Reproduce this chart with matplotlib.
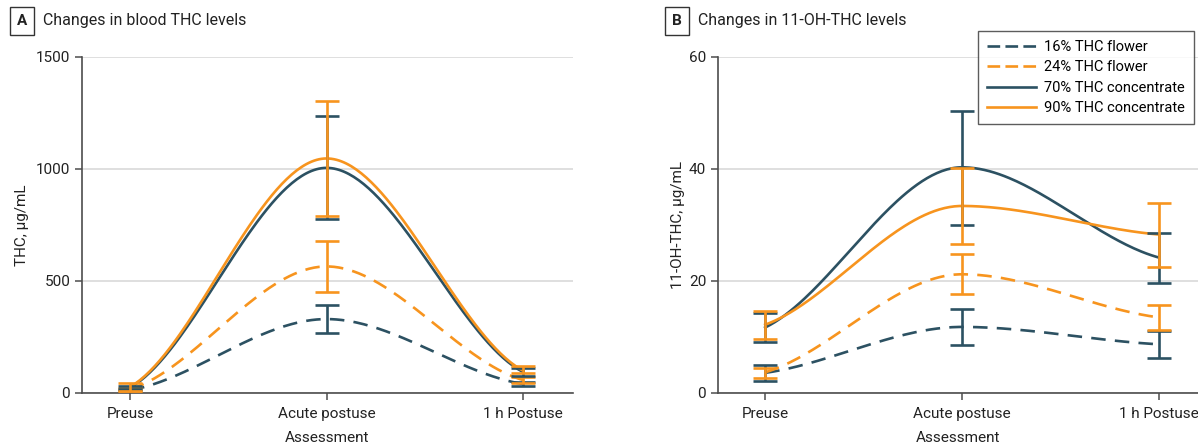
import numpy as np
import matplotlib
matplotlib.use("Agg")
import matplotlib.pyplot as plt
from matplotlib.lines import Line2D

plt.rcParams['font.family'] = ['Roboto', 'DejaVu Sans']

# ---------------- data ----------------
assessments = ["Preuse", "Acute postuse", "1 h Postuse"]
series_names = ["16% THC flower", "24% THC flower", "70% THC concentrate", "90% THC concentrate"]

# Panel A: blood THC (µg/mL)
thc_16 = [12, 330, 40]
thc_16_lo = [7, 268, 30]
thc_16_hi = [17, 393, 50]
thc_24 = [16, 565, 58]
thc_24_lo = [10, 451, 46]
thc_24_hi = [22, 678, 72]
thc_70 = [24, 1005, 94]
thc_70_lo = [18, 777, 76]
thc_70_hi = [31, 1238, 112]
thc_90 = [27, 1047, 100]
thc_90_lo = [9, 790, 88]
thc_90_hi = [45, 1304, 120]

# Panel B: 11-OH-THC (µg/mL)
oh_16 = [3.6, 11.8, 8.7]
oh_16_lo = [2.1, 8.6, 6.2]
oh_16_hi = [5.0, 15.0, 11.1]
oh_24 = [3.7, 21.2, 13.5]
oh_24_lo = [2.7, 17.7, 11.3]
oh_24_hi = [4.4, 24.8, 15.7]
oh_70 = [11.7, 40.3, 24.2]
oh_70_lo = [9.1, 30.0, 19.6]
oh_70_hi = [14.2, 50.3, 28.6]
oh_90 = [12.2, 33.4, 28.3]
oh_90_lo = [9.6, 26.6, 22.5]
oh_90_hi = [14.7, 40.2, 33.9]

DARK = '#2C5162'
ORANGE = '#F7941E'
GRID = '#D9D9D9'
SPINE = '#4D4D4D'
TXT = '#222222'

styles = [
    dict(color=DARK, dashed=True),
    dict(color=ORANGE, dashed=True),
    dict(color=DARK, dashed=False),
    dict(color=ORANGE, dashed=False),
]


def hermite_curve(x, y, k=0.5, n=80):
    x = np.asarray(x, float)
    y = np.asarray(y, float)
    s = np.diff(y) / np.diff(x)
    m = np.zeros_like(y)
    for i in range(1, len(y) - 1):
        if s[i - 1] * s[i] <= 0:
            m[i] = 0.0
        else:
            m[i] = 2.0 / (1.0 / s[i - 1] + 1.0 / s[i])
    m[0] = k * s[0]
    m[-1] = k * s[-1]
    xs, ys = [], []
    for i in range(len(x) - 1):
        h = x[i + 1] - x[i]
        t = np.linspace(0, 1, n)
        h00 = 2 * t**3 - 3 * t**2 + 1
        h10 = t**3 - 2 * t**2 + t
        h01 = -2 * t**3 + 3 * t**2
        h11 = t**3 - t**2
        yy = h00 * y[i] + h10 * h * m[i] + h01 * y[i + 1] + h11 * h * m[i + 1]
        xs.append(x[i] + t * h)
        ys.append(yy)
    return np.concatenate(xs), np.concatenate(ys)


fig = plt.figure(figsize=(11.98, 4.44), dpi=100)
W, H = 1198, 444
axA = fig.add_axes([82 / W, 1 - 393 / H, 491 / W, 336 / H])
axB = fig.add_axes([718 / W, 1 - 393 / H, 480 / W, 336 / H])

xpos = np.arange(len(assessments))

panelA = [(thc_16, thc_16_lo, thc_16_hi), (thc_24, thc_24_lo, thc_24_hi),
          (thc_70, thc_70_lo, thc_70_hi), (thc_90, thc_90_lo, thc_90_hi)]
panelB = [(oh_16, oh_16_lo, oh_16_hi), (oh_24, oh_24_lo, oh_24_hi),
          (oh_70, oh_70_lo, oh_70_hi), (oh_90, oh_90_lo, oh_90_hi)]


def draw(ax, data, k):
    for (vals, lo, hi), st, name in zip(data, styles, series_names):
        cx, cy = hermite_curve(xpos, vals, k=k)
        ls = (0, (5.5, 3.5)) if st['dashed'] else '-'
        ax.plot(cx, cy, color=st['color'], lw=1.9, ls=ls, label=name, zorder=3)
        vals = np.asarray(vals)
        yerr = np.vstack([vals - np.asarray(lo), np.asarray(hi) - vals])
        ax.errorbar(xpos, vals, yerr=yerr, fmt='none', ecolor=st['color'],
                    elinewidth=1.9, capsize=8.5, capthick=1.9, zorder=4)


draw(axA, panelA, k=0.5)
draw(axB, panelB, k=0.6)

for ax in (axA, axB):
    ax.spines['top'].set_visible(False)
    ax.spines['right'].set_visible(False)
    ax.spines['left'].set_color(SPINE)
    ax.spines['bottom'].set_color(SPINE)
    ax.spines['left'].set_linewidth(1.2)
    ax.spines['bottom'].set_linewidth(1.2)
    ax.set_xticks(xpos)
    ax.set_xticklabels(assessments)
    ax.tick_params(axis='both', colors=SPINE, labelcolor=TXT, labelsize=11,
                   length=5, width=1.1)
    ax.tick_params(axis='x', pad=5)
    ax.yaxis.grid(True, color=GRID, lw=1.2, zorder=0)
    ax.set_axisbelow(True)
    ax.set_xlabel('Assessment', fontsize=11, color=TXT, labelpad=7)

axA.set_xlim(-0.245, 2.255)
axA.set_ylim(0, 1500)
axA.set_yticks([0, 500, 1000, 1500])
axA.set_ylabel('THC, µg/mL', fontsize=11, color=TXT, labelpad=5)

axB.set_xlim(-0.24, 2.2)
axB.set_ylim(0, 60)
axB.set_yticks([0, 20, 40, 60])
axB.set_ylabel('11-OH-THC, µg/mL', fontsize=11, color=TXT, labelpad=3)

# panel titles
fig.text(22 / W, 1 - 21 / H, 'A', fontsize=11, fontweight='bold', ha='center', va='center',
         color=TXT, bbox=dict(boxstyle='square,pad=0.45', fc='white', ec='#333333', lw=1))
fig.text(43 / W, 1 - 20 / H, 'Changes in blood THC levels', fontsize=11.5, ha='left', va='center',
         color=TXT)
fig.text(677 / W, 1 - 21 / H, 'B', fontsize=11, fontweight='bold', ha='center', va='center',
         color=TXT, bbox=dict(boxstyle='square,pad=0.45', fc='white', ec='#333333', lw=1))
fig.text(698 / W, 1 - 20 / H, 'Changes in 11-OH-THC levels', fontsize=11.5, ha='left', va='center',
         color=TXT)

legend_handles = [
    Line2D([0], [0], color=st['color'], lw=1.9,
           ls=(0, (4.8, 2.0)) if st['dashed'] else '-')
    for st in styles
]
leg = axB.legend(legend_handles, series_names, loc='upper right',
                 bbox_to_anchor=(476 / 480, 1 + 26 / 336),
                 fontsize=10.5, frameon=True, fancybox=False, edgecolor='#333333',
                 handlelength=3.33, handletextpad=0.6, labelspacing=0.45, borderpad=0.6,
                 borderaxespad=0)
leg.get_frame().set_linewidth(1.0)
leg.set_zorder(10)

fig.savefig('out.png', dpi=100)
